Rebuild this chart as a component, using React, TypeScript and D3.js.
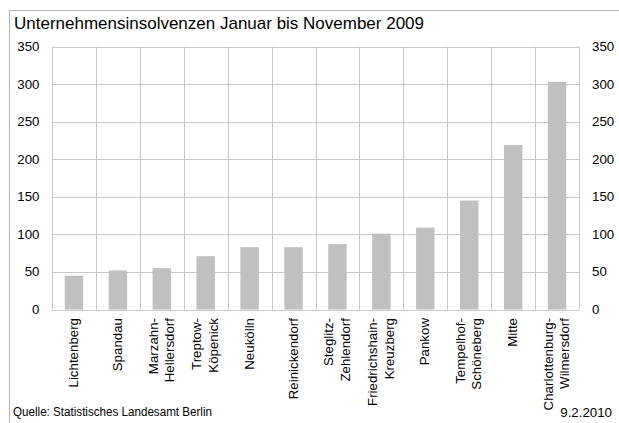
import React from "react";
import * as d3 from "d3";

const districts: string[][] = [
  ["Lichtenberg"],
  ["Spandau"],
  ["Marzahn-", "Hellersdorf"],
  ["Treptow-", "Köpenick"],
  ["Neukölln"],
  ["Reinickendorf"],
  ["Steglitz-", "Zehlendorf"],
  ["Friedrichshain-", "Kreuzberg"],
  ["Pankow"],
  ["Tempelhof-", "Schöneberg"],
  ["Mitte"],
  ["Charlottenburg-", "Wilmersdorf"],
];
const insolvencies: number[] = [45, 52, 55, 71, 83, 83, 87, 101, 109, 145, 219, 303];
const yTicks: number[] = [0, 50, 100, 150, 200, 250, 300, 350];
const title = "Unternehmensinsolvenzen Januar bis November 2009";
const source = "Quelle: Statistisches Landesamt Berlin";
const dateLabel = "9.2.2010";

const W = 619;
const H = 423;
const plot = { left: 52, right: 579, top: 46.5, bottom: 309.5 };
const font = "'Liberation Sans', Arial, sans-serif";

export default function App() {
  const keys = districts.map((d) => d.join(" "));
  const x = d3
    .scaleBand<string>()
    .domain(keys)
    .range([plot.left, plot.right])
    .paddingInner(0)
    .paddingOuter(0);
  const y = d3.scaleLinear().domain([0, 350]).range([plot.bottom, plot.top]);
  const bw = x.bandwidth();
  const barW = bw * 0.42;
  const gridColor = "#c8c8c8";

  return (
    <svg
      width={W}
      height={H}
      style={{ position: "absolute", left: 0, top: 0, background: "#fff" }}
      fontFamily={font}
    >
      {/* outer frame */}
      <line x1={9.5} y1={10.5} x2={W} y2={10.5} stroke="#b4b4b4" strokeWidth={1} />
      <line x1={9.5} y1={10.5} x2={9.5} y2={H} stroke="#b4b4b4" strokeWidth={1} />

      <text x={14} y={29} fontSize={17} fill="#000" textLength={410} lengthAdjust="spacingAndGlyphs">
        {title}
      </text>

      {/* horizontal gridlines */}
      {yTicks.map((t) => (
        <line
          key={"h" + t}
          x1={plot.left}
          x2={plot.right}
          y1={Math.round(y(t)) + 0.5}
          y2={Math.round(y(t)) + 0.5}
          stroke={gridColor}
        />
      ))}
      {/* vertical gridlines at category boundaries */}
      {keys.map((k) => (
        <line
          key={"v" + k}
          x1={Math.round(x(k)!) + 0.5}
          x2={Math.round(x(k)!) + 0.5}
          y1={plot.top}
          y2={plot.bottom}
          stroke={gridColor}
        />
      ))}
      <line
        x1={Math.round(plot.right) + 0.5}
        x2={Math.round(plot.right) + 0.5}
        y1={plot.top}
        y2={plot.bottom}
        stroke={gridColor}
      />

      {/* bars */}
      {insolvencies.map((v, i) => {
        const k = keys[i];
        const cx = x(k)! + bw / 2;
        return (
          <rect
            key={"b" + k}
            x={cx - barW / 2}
            y={y(v)}
            width={barW}
            height={y(0) - y(v)}
            fill="#c0c0c0"
          />
        );
      })}

      {/* y tick labels left and right */}
      {yTicks.map((t) => (
        <g key={"t" + t}>
          <text
            x={39.5}
            y={y(t)}
            fontSize={13.3}
            textAnchor="end"
            dominantBaseline="central"
            fill="#000"
          >
            {t}
          </text>
          <text
            x={592}
            y={y(t)}
            fontSize={13.3}
            textAnchor="start"
            dominantBaseline="central"
            fill="#000"
          >
            {t}
          </text>
        </g>
      ))}

      {/* category labels, rotated */}
      {districts.map((lines, i) => {
        const k = keys[i];
        const cx = x(k)! + bw / 2;
        const n = lines.length;
        const spacing = 16.5;
        return lines.map((ln, j) => {
          const lx = cx - 0.5 + (j - (n - 1) / 2) * spacing;
          const ly = 318;
          return (
            <text
              key={"c" + k + j}
              transform={`translate(${lx},${ly}) rotate(-90)`}
              fontSize={13.3}
              textAnchor="end"
              dominantBaseline="central"
              fill="#000"
            >
              {ln}
            </text>
          );
        });
      })}

      <text x={13} y={416} fontSize={12} fill="#000" textLength={199} lengthAdjust="spacingAndGlyphs">
        {source}
      </text>
      <text x={612} y={417} fontSize={13.3} textAnchor="end" fill="#000">
        {dateLabel}
      </text>
    </svg>
  );
}
